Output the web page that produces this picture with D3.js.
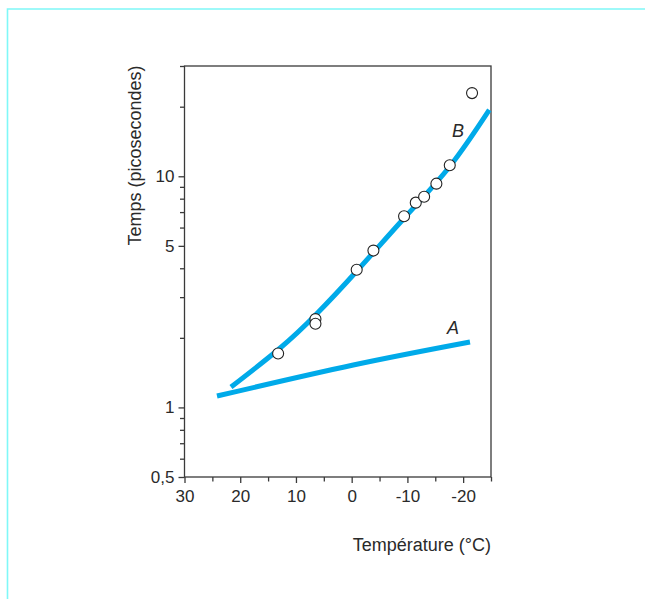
<!DOCTYPE html>
<html>
<head>
<meta charset="utf-8">
<script src="https://cdn.jsdelivr.net/npm/d3@7"></script>
<style>
  html, body { margin: 0; padding: 0; background: #fff; }
  svg { display: block; font-family: "Liberation Sans", Arial, sans-serif; }
</style>
</head>
<body>
<div class="canvas"></div>
<script>
// data
// temperature (°C), time (ps)
const pointTemps = [13.2, 6.5, 6.5, -0.9, -3.9, -9.4, -11.5, -13.0, -15.2, -17.6, -21.6];
const pointTimes = [1.71, 2.41, 2.30, 3.94, 4.77, 6.72, 7.69, 8.16, 9.29, 11.16, 22.9];

// curve B
const curveBTemps = [21.66, 13.04, 6.4, -1.01, -9.44, -17.67, -24.69];
const curveBTimes = [1.225, 1.789, 2.523, 3.912, 6.60, 11.08, 19.36];

// curve A
const curveATemps = [24.17, -0.29, -21.23];
const curveATimes = [1.12, 1.525, 1.918];

const xMajor = [30, 20, 10, 0, -10, -20];
const xMinor = [25, 15, 5, -5, -15, -25];
const yMajor = [0.5, 1, 5, 10];
const yMinor = [0.6, 0.7, 0.8, 0.9, 2, 3, 4, 6, 7, 8, 9, 20, 30];

// dimensions
const dims = { width: 645, height: 599 };
const plot = { left: 184.5, right: 491, top: 66, bottom: 477 };
const blue = "#00aae9";

const svg = d3
  .select(".canvas")
  .append("svg")
  .attr("width", dims.width)
  .attr("height", dims.height);

// cyan frame lines at top and left
svg.append("path")
  .attr("d", "M7.5,599 L7.5,9 L645,9")
  .attr("fill", "none")
  .attr("stroke", "#7ff8f8")
  .attr("stroke-width", 1.6);

// scales
const x = d3.scaleLinear().domain([30, -25]).range([plot.left, plot.right]);
const y = d3.scaleLog().domain([0.5, 30]).range([plot.bottom, plot.top]);

const axisColor = "#3a3a3a";

// box
svg.append("rect")
  .attr("x", plot.left)
  .attr("y", plot.top)
  .attr("width", plot.right - plot.left)
  .attr("height", plot.bottom - plot.top)
  .attr("fill", "none")
  .attr("stroke", axisColor)
  .attr("stroke-width", 1.3);

// axes
const styleAxis = g => {
  g.select(".domain").remove();
  g.selectAll(".tick line").attr("stroke", axisColor).attr("stroke-width", 1.3);
  g.selectAll(".tick text")
    .attr("fill", "#2a2a2a")
    .style("font-size", "17px")
    .style("font-family", "'Liberation Sans', Arial, sans-serif");
};

svg.append("g")
  .attr("transform", `translate(0,${plot.bottom})`)
  .call(d3.axisBottom(x).tickValues(xMinor).tickSize(4.5).tickFormat(""))
  .call(styleAxis);

svg.append("g")
  .attr("transform", `translate(0,${plot.bottom})`)
  .call(d3.axisBottom(x).tickValues(xMajor).tickSize(6).tickPadding(7).tickFormat(d => d))
  .call(styleAxis);

svg.append("g")
  .attr("transform", `translate(${plot.left},0)`)
  .call(d3.axisLeft(y).tickValues(yMinor).tickSize(4.5).tickFormat(""))
  .call(styleAxis);

svg.append("g")
  .attr("transform", `translate(${plot.left},0)`)
  .call(d3.axisLeft(y).tickValues(yMajor).tickSize(6).tickPadding(4)
    .tickFormat(d => String(d).replace(".", ",")))
  .call(styleAxis);

// axis titles
svg.append("text")
  .attr("x", 491)
  .attr("y", 551)
  .attr("text-anchor", "end")
  .attr("fill", "#2a2a2a")
  .style("font-size", "18px")
  .text("Température (°C)");

svg.append("text")
  .attr("transform", "translate(141,155.5) rotate(-90)")
  .attr("text-anchor", "middle")
  .attr("fill", "#2a2a2a")
  .style("font-size", "18px")
  .text("Temps (picosecondes)");

// curves
const line = d3.line()
  .x(d => x(d[0]))
  .y(d => y(d[1]))
  .curve(d3.curveNatural);

svg.append("path")
  .datum(d3.zip(curveATemps, curveATimes))
  .attr("d", line)
  .attr("fill", "none")
  .attr("stroke", blue)
  .attr("stroke-width", 5);

svg.append("path")
  .datum(d3.zip(curveBTemps, curveBTimes))
  .attr("d", line)
  .attr("fill", "none")
  .attr("stroke", blue)
  .attr("stroke-width", 5);

// measured points
svg.append("g")
  .selectAll("circle")
  .data(d3.zip(pointTemps, pointTimes))
  .enter()
  .append("circle")
  .attr("cx", d => x(d[0]))
  .attr("cy", d => y(d[1]))
  .attr("r", 5.5)
  .attr("fill", "white")
  .attr("stroke", "#222")
  .attr("stroke-width", 1.1);

// curve labels
const labels = [
  { name: "B", t: -19.1, v: 14.8 },
  { name: "A", t: -18.2, v: 2.08 }
];

svg.append("g")
  .selectAll("text")
  .data(labels)
  .enter()
  .append("text")
  .attr("x", d => x(d.t))
  .attr("y", d => y(d.v))
  .attr("text-anchor", "middle")
  .attr("fill", "#2a2a2a")
  .style("font-size", "18px")
  .style("font-style", "italic")
  .text(d => d.name);
</script>
</body>
</html>
